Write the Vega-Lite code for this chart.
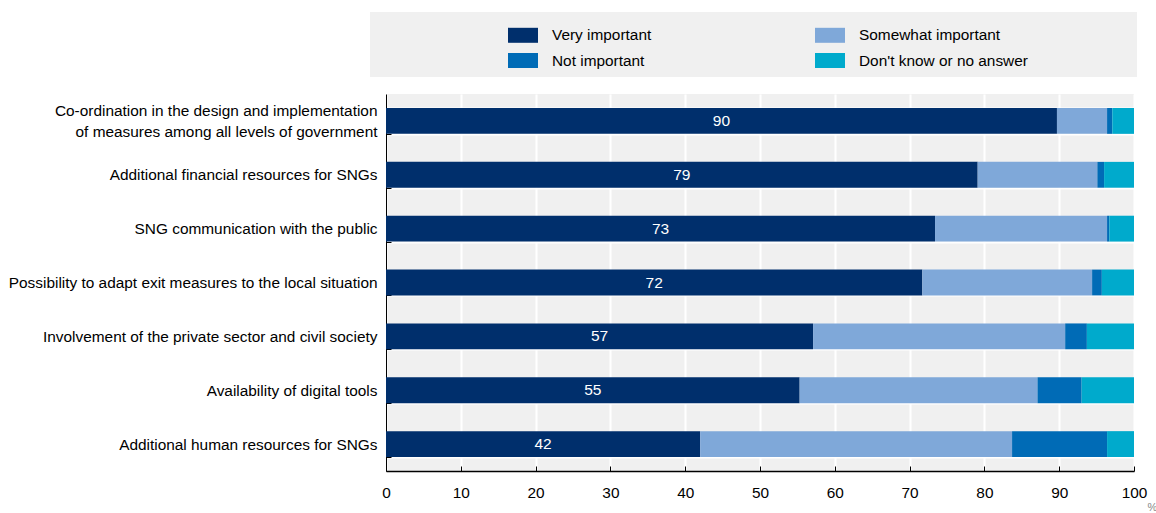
{
  "$schema": "https://vega.github.io/schema/vega-lite/v6.json",
  "width": 748,
  "height": 377,
  "autosize": "none",
  "padding": {"left": 386, "top": 94, "right": 22, "bottom": 42},
  "background": "white",
  "config": {
    "font": "Liberation Sans, Arial, sans-serif",
    "view": {"fill": "#f0f0f0", "stroke": null}
  },
  "data": {
    "values": [
      {"category": "Co-ordination in the design and implementation of measures among all levels of government", "response": "Very important", "value": 89.7},
      {"category": "Co-ordination in the design and implementation of measures among all levels of government", "response": "Somewhat important", "value": 6.7},
      {"category": "Co-ordination in the design and implementation of measures among all levels of government", "response": "Not important", "value": 0.7},
      {"category": "Co-ordination in the design and implementation of measures among all levels of government", "response": "Don't know or no answer", "value": 2.9},
      {"category": "Additional financial resources for SNGs", "response": "Very important", "value": 79.1},
      {"category": "Additional financial resources for SNGs", "response": "Somewhat important", "value": 16.0},
      {"category": "Additional financial resources for SNGs", "response": "Not important", "value": 0.9},
      {"category": "Additional financial resources for SNGs", "response": "Don't know or no answer", "value": 4.0},
      {"category": "SNG communication with the public", "response": "Very important", "value": 73.4},
      {"category": "SNG communication with the public", "response": "Somewhat important", "value": 23.0},
      {"category": "SNG communication with the public", "response": "Not important", "value": 0.3},
      {"category": "SNG communication with the public", "response": "Don't know or no answer", "value": 3.3},
      {"category": "Possibility to adapt exit measures to the local situation", "response": "Very important", "value": 71.7},
      {"category": "Possibility to adapt exit measures to the local situation", "response": "Somewhat important", "value": 22.7},
      {"category": "Possibility to adapt exit measures to the local situation", "response": "Not important", "value": 1.3},
      {"category": "Possibility to adapt exit measures to the local situation", "response": "Don't know or no answer", "value": 4.3},
      {"category": "Involvement of the private sector and civil society", "response": "Very important", "value": 57.1},
      {"category": "Involvement of the private sector and civil society", "response": "Somewhat important", "value": 33.7},
      {"category": "Involvement of the private sector and civil society", "response": "Not important", "value": 2.9},
      {"category": "Involvement of the private sector and civil society", "response": "Don't know or no answer", "value": 6.3},
      {"category": "Availability of digital tools", "response": "Very important", "value": 55.3},
      {"category": "Availability of digital tools", "response": "Somewhat important", "value": 31.8},
      {"category": "Availability of digital tools", "response": "Not important", "value": 5.9},
      {"category": "Availability of digital tools", "response": "Don't know or no answer", "value": 7.0},
      {"category": "Additional human resources for SNGs", "response": "Very important", "value": 42.0},
      {"category": "Additional human resources for SNGs", "response": "Somewhat important", "value": 41.7},
      {"category": "Additional human resources for SNGs", "response": "Not important", "value": 12.7},
      {"category": "Additional human resources for SNGs", "response": "Don't know or no answer", "value": 3.6}
    ]
  },
  "layer": [
    {
      "mark": {"type": "bar"},
      "encoding": {
        "y": {
          "field": "category",
          "type": "nominal",
          "sort": [
            "Co-ordination in the design and implementation of measures among all levels of government",
            "Additional financial resources for SNGs",
            "SNG communication with the public",
            "Possibility to adapt exit measures to the local situation",
            "Involvement of the private sector and civil society",
            "Availability of digital tools",
            "Additional human resources for SNGs"
          ],
          "scale": {"paddingInner": 0.52, "paddingOuter": 0.26},
          "axis": {
            "title": null,
            "labelFontSize": 15.4,
            "labelColor": "black",
            "labelPadding": 14,
            "labelLimit": 420,
            "labelLineHeight": 21,
            "labelOffset": {
              "condition": {"test": "datum.value == 'Co-ordination in the design and implementation of measures among all levels of government'", "value": -10.5},
              "value": 0
            },
            "labelExpr": "datum.value == 'Co-ordination in the design and implementation of measures among all levels of government' ? ['Co-ordination in the design and implementation', 'of measures among all levels of government'] : datum.label",
            "ticks": true,
            "tickSize": -5,
            "tickColor": "black",
            "tickBand": "extent",
            "domainColor": "black",
            "domainWidth": 1,
            "grid": true,
            "gridColor": "white",
            "gridWidth": 2
          }
        },
        "x": {
          "field": "value",
          "type": "quantitative",
          "stack": "zero",
          "scale": {"domain": [0, 100], "nice": false},
          "axis": {
            "title": "%",
            "titleFontSize": 11,
            "titleColor": "#888888",
            "titleFontWeight": "normal",
            "titleX": 761,
            "titleY": 36,
            "titleAlign": "left",
            "titleBaseline": "middle",
            "values": [0, 10, 20, 30, 40, 50, 60, 70, 80, 90, 100],
            "labelFontSize": 15.4,
            "labelColor": "black",
            "labelFlush": false,
            "labelPadding": 19,
            "tickSize": -5,
            "tickColor": "black",
            "domainColor": "black",
            "domainWidth": 1.5,
            "grid": true,
            "gridColor": "white",
            "gridWidth": 2
          }
        },
        "order": {"field": "response", "sort": "descending"},
        "color": {
          "field": "response",
          "type": "nominal",
          "sort": ["Very important", "Somewhat important", "Not important", "Don't know or no answer"],
          "scale": {
            "domain": ["Very important", "Somewhat important", "Not important", "Don't know or no answer"],
            "range": ["#002F6C", "#7FA8D9", "#006BB6", "#00AACC"]
          },
          "legend": {
            "orient": "none",
            "legendX": -16,
            "legendY": -82,
            "direction": "horizontal",
            "columns": 2,
            "title": " ",
            "titleOrient": "right",
            "titlePadding": 101,
            "fillColor": "#f0f0f0",
            "padding": 8,
            "rowPadding": 1.5,
            "columnPadding": 33,
            "gridAlign": "each",
            "symbolType": "M-1,-0.5H1V0.5H-1Z",
            "symbolSize": 900,
            "symbolStrokeWidth": 0,
            "symbolOpacity": 1,
            "symbolOffset": 130,
            "labelOffset": 14,
            "labelFontSize": 15.4,
            "labelColor": "black",
            "labelLimit": 300
          }
        }
      }
    },
    {
      "transform": [{"filter": "datum.response === 'Very important'"}],
      "mark": {"type": "text", "color": "white", "fontSize": 15.5, "baseline": "middle", "align": "center"},
      "encoding": {
        "y": {
          "field": "category",
          "type": "nominal",
          "sort": [
            "Co-ordination in the design and implementation of measures among all levels of government",
            "Additional financial resources for SNGs",
            "SNG communication with the public",
            "Possibility to adapt exit measures to the local situation",
            "Involvement of the private sector and civil society",
            "Availability of digital tools",
            "Additional human resources for SNGs"
          ]
        },
        "x": {
          "field": "value",
          "type": "quantitative",
          "stack": null,
          "scale": {"domain": [0, 200], "nice": false},
          "axis": null
        },
        "text": {"field": "value", "type": "quantitative", "format": ".0f"}
      }
    }
  ],
  "resolve": {"scale": {"x": "independent"}}
}
